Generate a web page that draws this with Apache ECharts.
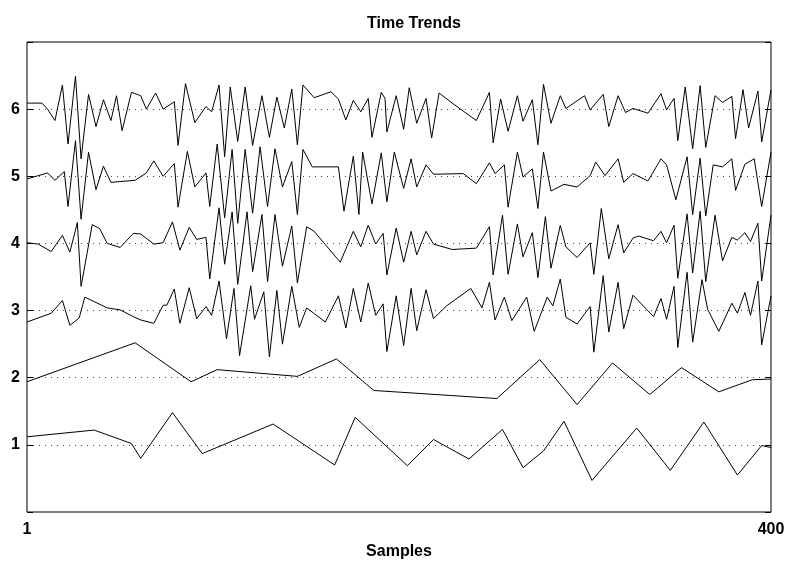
<!DOCTYPE html>
<html>
<head>
<meta charset="utf-8">
<title>Time Trends</title>
<script src="https://cdn.jsdelivr.net/npm/echarts@6/dist/echarts.min.js"></script>
<style>
  html, body { margin: 0; padding: 0; background: #fff; }
  #chart { width: 790px; height: 567px; }
</style>
</head>
<body>
<div id="chart"></div>
<script>
// each trend: [sample, value] vertices
var trend6 = [[1,6.09],[9,6.09],[12,6.00],[16,5.83],[20,6.36],[23,5.48],[27,6.49],[30,5.26],[34,6.22],[38,5.74],
  [42,6.14],[46,5.83],[49,6.20],[52,5.68],[57,6.25],[62,6.20],[65,6.00],[70,6.24],[74,6.00],[80,6.11],
  [82,5.46],[86,6.38],[91,5.80],[97,6.04],[100,5.96],[104,6.36],[107,5.29],[110,6.33],[114,5.52],[118,6.33],
  [122,5.46],[127,6.20],[131,5.58],[135,6.18],[139,5.72],[143,6.30],[146,5.47],[149,6.36],[155,6.17],[164,6.26],
  [168,6.15],[172,5.84],[176,6.13],[180,5.96],[184,6.16],[186,5.58],[191,6.25],[193,6.16],[194,5.66],[199,6.20],
  [203,5.70],[206,6.32],[210,5.79],[215,6.16],[218,5.57],[222,6.24],[230,6.07],[242,5.83],[249,6.25],[251,5.50],
  [255,6.15],[259,5.67],[264,6.20],[267,5.82],[272,6.14],[275,5.47],[278,6.37],[282,5.79],[287,6.20],[290,6.01],
  [300,6.20],[303,5.99],[310,6.22],[313,5.74],[318,6.20],[322,5.95],[326,6.01],[334,5.94],[341,6.23],[344,5.99],
  [348,6.16],[350,5.53],[354,6.33],[358,5.41],[362,6.35],[365,5.43],[370,6.20],[374,6.10],[379,6.19],[381,5.56],
  [385,6.29],[388,5.72],[393,6.27],[395,5.51],[400,6.29]];

var trend5 = [[1,4.96],[12,5.05],[16,4.94],[21,5.07],[23,4.55],[27,5.53],[30,4.36],[34,5.36],[38,4.80],[42,5.15],
  [46,4.91],[59,4.94],[65,5.05],[69,5.23],[74,5.00],[80,5.19],[82,4.54],[87,5.37],[91,4.84],[97,5.05],
  [99,4.55],[103,5.48],[107,4.38],[111,5.40],[114,4.30],[118,5.40],[122,4.45],[126,5.44],[130,4.55],[134,5.41],
  [138,4.84],[143,5.22],[146,4.43],[149,5.40],[154,5.14],[168,5.14],[171,4.48],[176,5.30],[179,4.43],[181,5.36],
  [186,4.59],[191,5.35],[194,4.62],[198,5.36],[203,4.82],[207,5.26],[210,4.84],[215,5.17],[219,5.03],[235,5.04],
  [242,4.89],[249,5.20],[252,5.04],[257,5.17],[259,4.54],[264,5.36],[267,4.99],[272,5.11],[275,4.52],[278,5.36],
  [282,4.78],[289,4.88],[296,4.84],[303,5.01],[306,5.21],[311,5.01],[318,5.26],[321,4.91],[326,5.04],[334,4.93],
  [341,5.26],[344,5.17],[349,4.65],[355,5.29],[358,4.43],[362,5.27],[365,4.41],[369,5.17],[374,5.14],[379,5.26],
  [381,4.79],[386,5.18],[391,5.26],[395,4.55],[400,5.36]];

var trend4 = [[1,4.01],[7,3.99],[14,3.88],[20,4.12],[24,3.87],[28,4.31],[30,3.36],[36,4.28],[40,4.22],[44,4.00],
  [51,3.94],[58,4.15],[62,4.14],[69,3.99],[74,4.01],[79,4.32],[83,3.90],[88,4.24],[92,4.06],[97,4.09],
  [99,3.47],[104,4.53],[107,3.69],[111,4.47],[114,3.39],[119,4.47],[122,3.58],[127,4.43],[130,3.43],[134,4.43],
  [138,3.66],[143,4.26],[146,3.41],[151,4.25],[155,4.18],[169,3.72],[176,4.18],[180,3.95],[184,4.27],[188,3.99],
  [192,4.15],[194,3.53],[199,4.23],[203,3.72],[207,4.18],[210,3.83],[215,4.18],[219,3.99],[229,3.91],[242,3.93],
  [249,4.25],[251,3.53],[256,4.42],[259,3.54],[264,4.29],[267,3.80],[272,4.16],[275,3.49],[279,4.40],[282,3.63],
  [287,4.27],[290,3.95],[296,3.79],[303,4.01],[305,3.54],[309,4.52],[313,3.77],[318,4.28],[321,3.86],[326,4.08],
  [329,4.11],[337,4.04],[341,4.18],[344,4.01],[348,4.27],[350,3.48],[355,4.44],[358,3.56],[362,4.48],[365,3.43],
  [370,4.42],[374,3.74],[379,4.09],[382,4.05],[386,4.16],[389,4.03],[393,4.30],[395,3.44],[400,4.42]];

var trend3 = [[1,2.83],[14,2.96],[20,3.15],[24,2.78],[29,2.89],[32,3.20],[44,3.04],[51,3.01],[58,2.91],[62,2.86],
  [69,2.81],[74,3.08],[76,3.08],[80,3.32],[83,2.81],[88,3.34],[92,2.88],[97,3.06],[100,2.93],[104,3.44],
  [108,2.58],[112,3.33],[115,2.33],[121,3.37],[123,2.87],[128,3.28],[131,2.31],[135,3.30],[138,2.50],[143,3.36],
  [147,2.75],[151,3.04],[161,2.83],[168,3.22],[172,2.74],[176,3.33],[180,2.83],[184,3.41],[188,2.93],[192,3.10],
  [194,2.39],[199,3.22],[203,2.48],[207,3.33],[210,2.70],[215,3.31],[219,2.88],[226,3.07],[239,3.33],[245,3.04],
  [249,3.42],[252,2.86],[257,3.20],[261,2.85],[269,3.20],[273,2.69],[280,3.20],[283,3.07],[287,3.47],[290,2.90],
  [296,2.80],[303,3.06],[305,2.38],[310,3.52],[313,2.68],[318,3.42],[321,2.73],[326,3.23],[337,2.91],[341,3.18],
  [344,2.87],[348,3.36],[350,2.45],[355,3.57],[358,2.53],[363,3.46],[366,3.02],[372,2.69],[379,3.11],[382,2.96],
  [386,3.27],[389,2.93],[393,3.44],[395,2.49],[400,3.22]];

var trend2 = [[1,1.94],[59,2.52],[89,1.94],[103,2.12],[146,2.02],[167,2.28],[187,1.81],[253,1.69],[276,2.27],
  [296,1.60],[315,2.22],[335,1.75],[352,2.15],[372,1.79],[390,1.97],[400,1.98]];

var trend1 = [[1,1.12],[37,1.22],[57,1.02],[62,0.80],[79,1.48],[95,0.87],[133,1.31],[166,0.70],[177,1.41],
  [205,0.69],[219,1.08],[238,0.79],[256,1.23],[267,0.66],[278,0.91],[289,1.35],[304,0.47],[328,1.25],
  [346,0.62],[364,1.34],[382,0.55],[395,0.99],[400,0.96]];

var trends = [trend1, trend2, trend3, trend4, trend5, trend6];
var sampleTicks = [1, 400];
var levelLabels = [1, 2, 3, 4, 5, 6];

var font = 'Liberation Sans, Arial, sans-serif';
var chart = echarts.init(document.getElementById('chart'));

var option = {
  animation: false,
  backgroundColor: '#fff',
  title: {
    text: 'Time Trends',
    left: 362,
    top: 11,
    textStyle: { fontFamily: font, fontSize: 16, fontWeight: 'bold', color: '#000' }
  },
  grid: {
    left: 27, right: 19, top: 42, bottom: 55,
    show: true, borderColor: '#000', borderWidth: 1
  },
  xAxis: {
    type: 'value',
    min: 1, max: 400,
    name: 'Samples',
    nameLocation: 'middle',
    nameGap: 32,
    nameTextStyle: { fontFamily: font, fontSize: 16, fontWeight: 'bold', color: '#000' },
    axisLine: { show: false },
    axisTick: { show: false },
    splitLine: { show: false },
    axisLabel: {
      customValues: sampleTicks,
      margin: 10,
      fontFamily: font, fontSize: 16, fontWeight: 'bold', color: '#000'
    }
  },
  yAxis: [{
    type: 'value',
    min: 0, max: 7, interval: 1,
    axisLine: { show: false },
    axisTick: { show: true, inside: true, length: 6, lineStyle: { color: '#000' } },
    splitLine: {
      show: true, showMinLine: false, showMaxLine: false,
      lineStyle: { color: '#444', type: [1, 5], width: 1 }
    },
    axisLabel: {
      margin: 7,
      fontFamily: font, fontSize: 16, fontWeight: 'bold', color: '#000',
      formatter: function (v) { return levelLabels.indexOf(v) >= 0 ? String(v) : ''; }
    }
  }, {
    type: 'value',
    position: 'right',
    min: 0, max: 7, interval: 1,
    axisLine: { show: false },
    axisTick: { show: true, inside: true, length: 6, lineStyle: { color: '#000' } },
    splitLine: { show: false },
    axisLabel: { show: false }
  }],
  series: trends.map(function (d, i) {
    return {
      name: 'trend' + (i + 1),
      type: 'line',
      data: d,
      showSymbol: false,
      symbol: 'none',
      lineStyle: { color: '#000', width: 1 },
      z: 3
    };
  })
};

chart.setOption(option);
</script>
</body>
</html>
